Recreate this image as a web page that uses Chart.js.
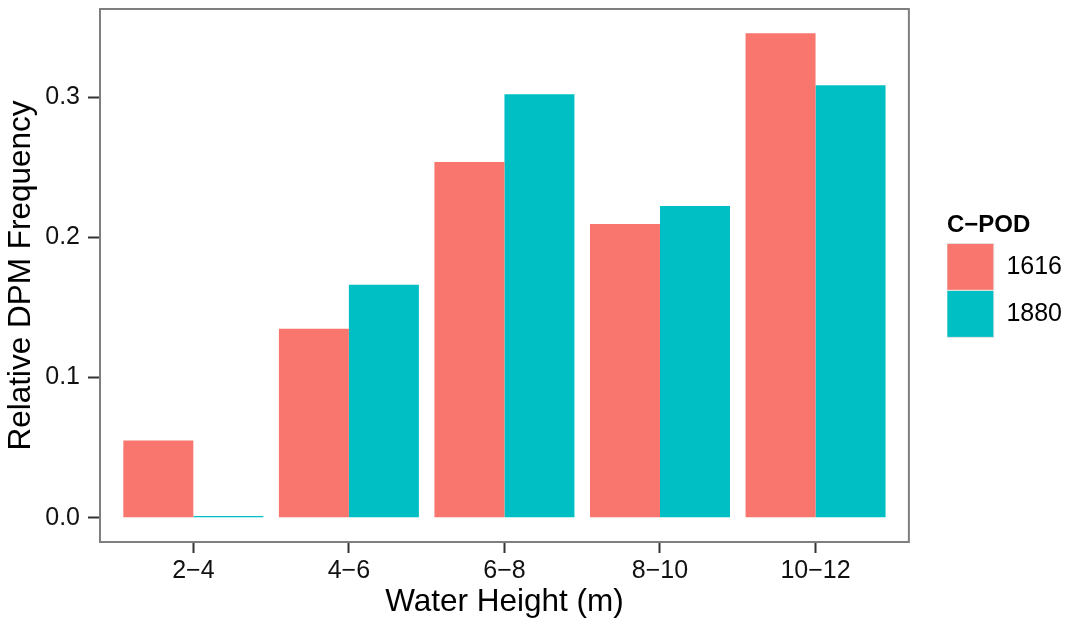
<!DOCTYPE html>
<html>
<head>
<meta charset="utf-8">
<script src="https://cdn.jsdelivr.net/npm/chart.js@4/dist/chart.umd.min.js"></script>
<style>
  html, body { margin: 0; padding: 0; background: #fff; }
  #wrap { width: 1065px; height: 622px; }
</style>
</head>
<body>
<div id="wrap"><canvas id="chart" width="1065" height="622"></canvas></div>
<script>
// data
var categories = ["2\u22124", "4\u22126", "6\u22128", "8\u221210", "10\u221212"];
var seriesNames = ["1616", "1880"];
var pod1616 = [0.0551, 0.1348, 0.2538, 0.2096, 0.3457];
var pod1880 = [0.0012, 0.1662, 0.3022, 0.2224, 0.3086];
var yTicks = [0, 0.1, 0.2, 0.3];

var colors = ["#F8766D", "#00BFC4"];
var fontFamily = "'Liberation Sans', Arial, Helvetica, sans-serif";

// categories sit at 1..n on a linear axis so the padding matches ggplot (0.6 each side)
function points(vals) {
  return vals.map(function (v, i) { return { x: i + 1, y: v }; });
}

var panelBorder = {
  id: 'panelBorder',
  afterDraw: function (chart) {
    var a = chart.chartArea, ctx = chart.ctx;
    ctx.save();
    ctx.strokeStyle = '#7f7f7f';
    ctx.lineWidth = 2;
    ctx.strokeRect(a.left, a.top, a.right - a.left, a.bottom - a.top);
    ctx.restore();
  }
};

// push the legend away from the panel
var legendShift = {
  id: 'legendShift',
  afterLayout: function (chart) {
    chart.legend.left += 38;
    chart.legend.right += 38;
  }
};

new Chart(document.getElementById('chart'), {
  type: 'bar',
  data: {
    datasets: [
      { label: seriesNames[0], data: points(pod1616), backgroundColor: colors[0], borderWidth: 0 },
      { label: seriesNames[1], data: points(pod1880), backgroundColor: colors[1], borderWidth: 0 }
    ]
  },
  options: {
    responsive: false,
    animation: false,
    devicePixelRatio: 1,
    layout: { padding: { top: 9, left: 0, bottom: 0, right: 31 } },
    datasets: {
      bar: { categoryPercentage: 0.9, barPercentage: 1.0 }
    },
    scales: {
      x: {
        type: 'linear',
        offset: false,
        min: 0.4,
        max: categories.length + 0.6,
        afterBuildTicks: function (scale) {
          scale.ticks = categories.map(function (c, i) { return { value: i + 1 }; });
        },
        afterFit: function (scale) {
          scale.height = 80;
          scale.paddingLeft = 0;
          scale.paddingRight = 0;
        },
        ticks: {
          callback: function (v) { return categories[v - 1]; },
          font: { family: fontFamily, size: 25, lineHeight: 1.2 },
          color: '#111',
          padding: 3,
          maxRotation: 0,
          autoSkip: false
        },
        grid: { display: true, offset: false, drawOnChartArea: false, drawTicks: true, tickLength: 11, tickWidth: 2, tickColor: '#333' },
        border: { display: false },
        title: {
          display: true,
          text: 'Water Height (m)',
          color: '#000',
          font: { family: fontFamily, size: 31.5, lineHeight: 1 },
          padding: { top: 0, bottom: 4.25 }
        }
      },
      y: {
        min: -0.0174,
        max: 0.3631,
        afterBuildTicks: function (scale) {
          scale.ticks = yTicks.map(function (v) { return { value: v }; });
        },
        afterFit: function (scale) {
          scale.width = 100;
          scale.paddingTop = 0;
          scale.paddingBottom = 0;
        },
        ticks: {
          callback: function (v) { return v.toFixed(1); },
          font: { family: fontFamily, size: 25 },
          color: '#111',
          padding: 8
        },
        grid: { display: true, drawOnChartArea: false, drawTicks: true, tickLength: 12, tickWidth: 2, tickColor: '#333' },
        border: { display: false },
        title: {
          display: true,
          text: 'Relative DPM Frequency',
          color: '#000',
          font: { family: fontFamily, size: 31.5, lineHeight: 1 },
          padding: { top: 5.75, bottom: 0 }
        }
      }
    },
    plugins: {
      tooltip: { enabled: false },
      legend: {
        position: 'right',
        align: 'center',
        fullSize: false,
        title: {
          display: true,
          text: 'C\u2212POD',
          position: 'start',
          color: '#000',
          font: { family: fontFamily, size: 24, weight: 'bold' },
          padding: { top: 0, bottom: 1 }
        },
        labels: {
          boxWidth: 47,
          boxHeight: 47,
          padding: 0,
          color: '#000',
          font: { family: fontFamily, size: 25 },
          generateLabels: function (chart) {
            var items = Chart.defaults.plugins.legend.labels.generateLabels(chart);
            items.forEach(function (it) {
              it.strokeStyle = '#e6e6e6';
              it.lineWidth = 1;
            });
            return items;
          }
        }
      }
    }
  },
  plugins: [panelBorder, legendShift]
});
</script>
</body>
</html>
